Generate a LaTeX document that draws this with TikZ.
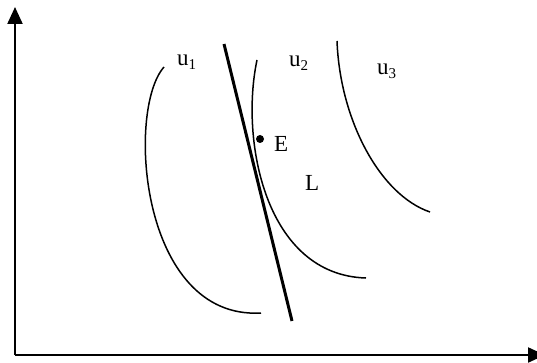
\documentclass[tikz,border=0pt]{standalone}
\usepackage{fontspec}
\setmainfont{Liberation Serif}
\usetikzlibrary{arrows.meta}
\tikzset{
  axis/.style={line width=2.2pt, -{Triangle[length=17pt,width=15pt]}},
  curve/.style={line width=1.5pt},
  budget/.style={line width=3pt},
  lbl/.style={font=\fontsize{23}{23}\selectfont, inner sep=0pt, anchor=base west},
}
\newcommand{\sbs}[1]{\raisebox{-4pt}{\fontsize{15}{15}\selectfont #1}}
\begin{document}
\begin{tikzpicture}[x=1pt,y=-1pt]
\useasboundingbox (0,0) rectangle (537,363);
\coordinate (O) at (15,355);
\coordinate (Ytop) at (15,7);
\coordinate (Xend) at (545,355);
\draw[axis] (O) -- (Ytop);
\draw[axis] (O) -- (Xend);
% indifference curves
\draw[curve] (164,67) .. controls (126,110) and (140,320) .. (261,313);
\draw[curve] (257,60) .. controls (240,140) and (265,275) .. (366,278);
\draw[curve] (337,41) .. controls (340,120) and (380,195) .. (430,212);
% budget line
\coordinate (Ltop) at (224,44);
\coordinate (Lbot) at (292,321);
\draw[budget] (Ltop) -- (Lbot);
% point E
\fill (260,139) circle (4pt);
\node[lbl] (E) at (274,152) {E};
\node[lbl] (L) at (305,190) {L};
\node[lbl] (u1) at (177,66) {u\sbs{1}};
\node[lbl] (u2) at (289,67) {u\sbs{2}};
\node[lbl] (u3) at (377,75) {u\sbs{3}};
\end{tikzpicture}
\end{document}
